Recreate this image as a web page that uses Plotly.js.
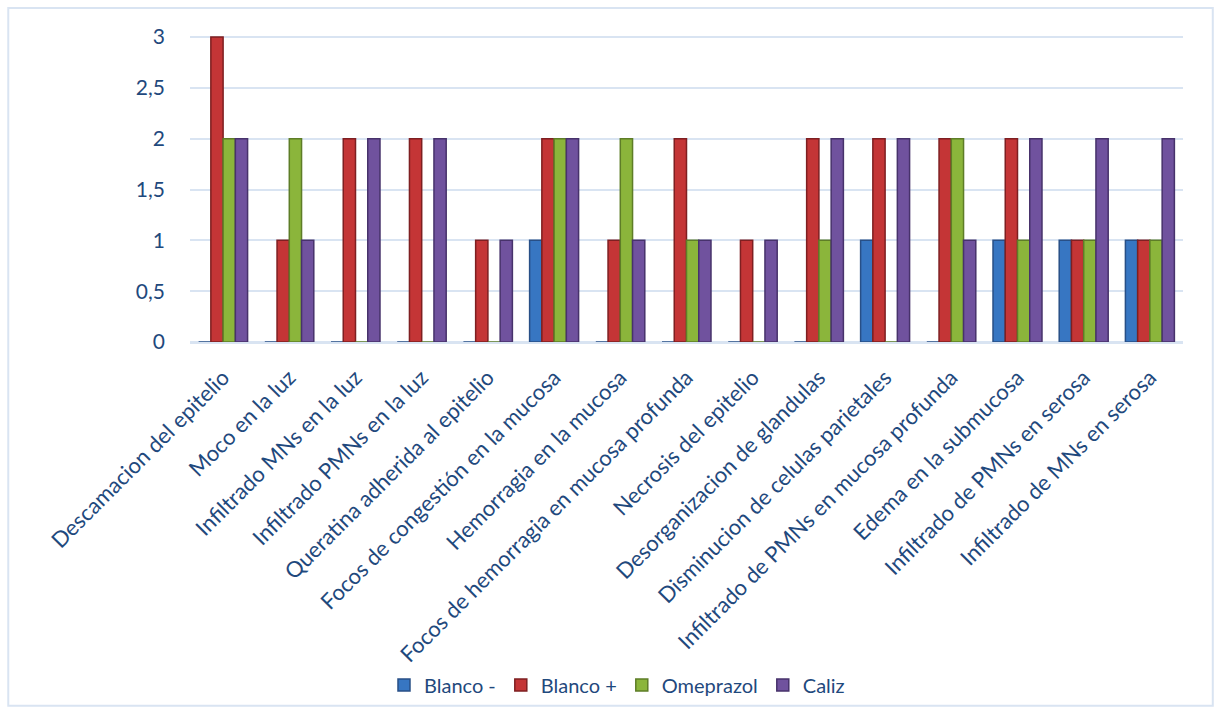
<!DOCTYPE html>
<html>
<head>
<meta charset="utf-8">
<script src="https://cdn.plot.ly/plotly-3.0.1.min.js"></script>
<style>
  html, body { margin: 0; padding: 0; background: #ffffff; }
  #chart { width: 1221px; height: 715px; }
</style>
</head>
<body>
<div id="chart"></div>
<script>
// Histopathology findings scored per group
const categories = [
  "Descamacion del epitelio",
  "Moco en la luz",
  "Infiltrado MNs en la luz",
  "Infiltrado PMNs en la luz",
  "Queratina adherida al epitelio",
  "Focos de congestión en la mucosa",
  "Hemorragia en la mucosa",
  "Focos de hemorragia en mucosa profunda",
  "Necrosis del epitelio",
  "Desorganizacion de glandulas",
  "Disminucion de celulas parietales",
  "Infiltrado de PMNs en mucosa profunda",
  "Edema en la submucosa",
  "Infiltrado de PMNs en serosa",
  "Infiltrado de MNs en serosa"
];

const blancoMenos = [0, 0, 0, 0, 0, 1, 0, 0, 0, 0, 1, 0, 1, 1, 1];
const blancoMas   = [3, 1, 2, 2, 1, 2, 1, 2, 1, 2, 2, 2, 2, 1, 1];
const omeprazol   = [2, 2, 0, 0, 0, 2, 2, 1, 0, 1, 0, 2, 1, 1, 1];
const caliz       = [2, 1, 2, 2, 1, 2, 1, 1, 1, 2, 2, 1, 2, 2, 2];

const seriesNames = ["Blanco -", "Blanco +", "Omeprazol", "Caliz"];
const fillColors  = ["#3776C2", "#C43536", "#8BB53B", "#70529E"];
const edgeColors  = ["#284F86", "#7E1F21", "#5E7D27", "#47326B"];

const textColor = "#1F497D";
const fontFamily = "Lato, 'Noto Sans', sans-serif";

const values = [blancoMenos, blancoMas, omeprazol, caliz];
const traces = values.map((v, i) => ({
  type: "bar",
  name: seriesNames[i],
  x: categories,
  y: v,
  marker: { color: fillColors[i], line: { color: edgeColors[i], width: 1.5 } },
  hoverinfo: "x+y+name"
}));

// plot area: x 190..1183, y 35..343
const layout = {
  width: 1221,
  height: 715,
  paper_bgcolor: "#ffffff",
  plot_bgcolor: "#ffffff",
  margin: { l: 190, r: 38, t: 35, b: 372 },
  barmode: "group",
  bargap: 0.26,
  bargroupgap: 0.0,
  separators: ",.",
  font: { family: fontFamily, color: textColor, size: 20 },
  xaxis: {
    type: "category",
    tickangle: -45,
    automargin: false,
    showgrid: false,
    showline: true,
    linecolor: "#D9E4F2",
    linewidth: 2,
    ticks: "",
    ticklabelstandoff: 12,
    tickfont: { family: fontFamily, color: textColor, size: 22 }
  },
  yaxis: {
    range: [0, 3.02],
    dtick: 0.5,
    tick0: 0,
    automargin: false,
    showgrid: true,
    gridcolor: "#D9E4F2",
    gridwidth: 2,
    zeroline: true,
    zerolinecolor: "#D9E4F2",
    zerolinewidth: 2,
    ticks: "",
    ticklabelstandoff: 24,
    tickfont: { family: fontFamily, color: textColor, size: 21 }
  },
  legend: {
    orientation: "h",
    x: 0.43,
    xanchor: "center",
    y: -1.11,
    yanchor: "middle",
    bgcolor: "rgba(0,0,0,0)",
    font: { family: fontFamily, color: textColor, size: 20 },
    itemwidth: 30,
    traceorder: "normal"
  },
  shapes: [
    {
      type: "rect", xref: "paper", yref: "paper",
      x0: -0.183, x1: 1.030, y0: -1.185, y1: 1.088,
      line: { color: "#D9E4F2", width: 2 }, fillcolor: "rgba(0,0,0,0)",
      layer: "below"
    }
  ]
};

Plotly.newPlot("chart", traces, layout, { displayModeBar: false, staticPlot: true });
</script>
</body>
</html>
